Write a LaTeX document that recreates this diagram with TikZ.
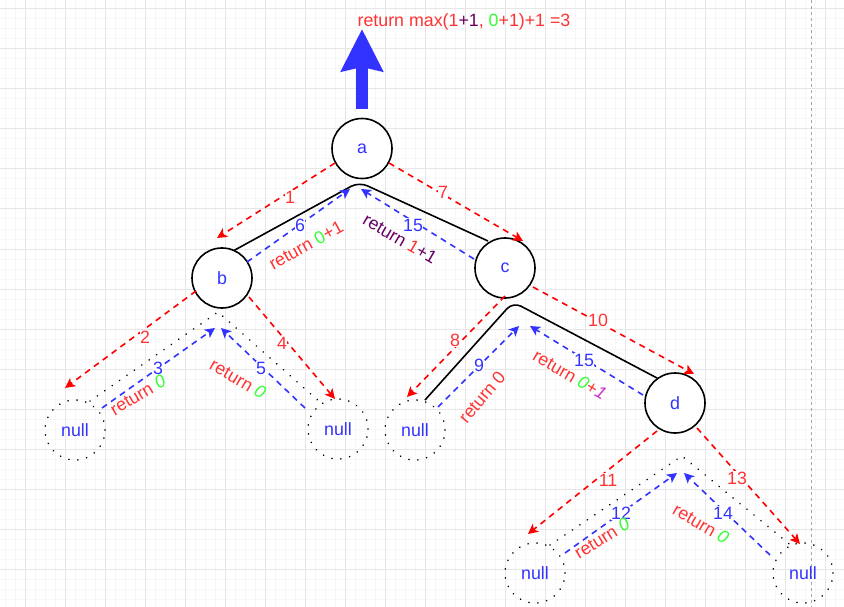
\documentclass[tikz,border=0pt]{standalone}
\usepackage{fontspec}
\setmainfont{Liberation Sans}
\usetikzlibrary{arrows.meta}
\definecolor{tred}{RGB}{255,51,51}
\definecolor{lred}{RGB}{255,0,0}
\definecolor{tblue}{RGB}{51,51,255}
\definecolor{tgreen}{RGB}{51,255,51}
\definecolor{tpurple}{RGB}{102,0,102}
\definecolor{tmag}{RGB}{204,51,204}
\definecolor{gridminor}{RGB}{247,247,247}
\definecolor{gridmajor}{RGB}{230,230,230}
\tikzset{
  txt/.style={font=\fontsize{17.8}{20}\selectfont, inner sep=1pt},
  tnode/.style={circle, draw=black, line width=1.6pt, fill=white, minimum size=60pt, inner sep=0pt, text=tblue, txt},
  nullnode/.style={circle, draw=black, line width=1.8pt, dash pattern=on 0.01pt off 9pt, line cap=round, minimum size=60pt, inner sep=0pt, text=tblue, txt},
  solidpath/.style={draw=black, line width=1.6pt, rounded corners=9pt},
  dotpath/.style={draw=black, line width=1.8pt, dash pattern=on 0.01pt off 9pt, line cap=round},
  redarr/.style={draw=lred, line width=1.6pt, dash pattern=on 6pt off 5pt, -{Stealth[length=10pt, width=10pt, inset=2.5pt]}},
  bluearr/.style={draw=tblue, line width=1.6pt, dash pattern=on 6pt off 5pt, -{Stealth[length=10pt, width=10pt, inset=2.5pt]}},
  numlbl/.style={txt, fill=white, inner sep=0.5pt},
  rednum/.style={numlbl, text=tred},
  bluenum/.style={numlbl, text=tblue},
  retlbl/.style={txt, text=tred},
}
\begin{document}
\begin{tikzpicture}[x=1pt, y=-1pt]
\useasboundingbox (0,0) rectangle (844,607);
\fill[white] (0,0) rectangle (844,607);
% grid
\foreach \x in {5,15,...,845} \draw[gridminor, line width=1pt] (\x,0) -- (\x,607);
\foreach \y in {-1,9,...,607} \draw[gridminor, line width=1pt] (0,\y) -- (844,\y);
\foreach \x in {25,65,...,845} \draw[gridmajor, line width=1pt] (\x,0) -- (\x,607);
\foreach \y in {9,49,...,607} \draw[gridmajor, line width=1pt] (0,\y) -- (844,\y);
% page border (dashed)
\draw[gray!70, line width=0.8pt, dash pattern=on 3pt off 3pt] (811,0) -- (811,607);

% coordinates for connectors
\coordinate (s1a) at (233,251); \coordinate (s1m) at (359,182); \coordinate (s1b) at (488,241);
\coordinate (s2a) at (425,400); \coordinate (s2m) at (513,302); \coordinate (s2b) at (657,378);
\coordinate (p1a) at (90,401);  \coordinate (p1m) at (218,312); \coordinate (p1b) at (320,402);
\coordinate (p2a) at (550,545); \coordinate (p2m) at (682,456); \coordinate (p2b) at (793,547);

\coordinate (r1s) at (335,163);  \coordinate (r1e) at (217,238);
\coordinate (r7s) at (389,163);  \coordinate (r7e) at (523,241);
\coordinate (r2s) at (196,291);  \coordinate (r2e) at (65,388);
\coordinate (r4s) at (249,297);  \coordinate (r4e) at (335,399);
\coordinate (r8s) at (505,296);  \coordinate (r8e) at (407,397);
\coordinate (r10s) at (533,287); \coordinate (r10e) at (694,374);
\coordinate (r11s) at (657,431); \coordinate (r11e) at (528,534);
\coordinate (r13s) at (697,428); \coordinate (r13e) at (800,544);

\coordinate (b6s) at (247,262);  \coordinate (b6e) at (350,189);
\coordinate (b15s) at (474,259); \coordinate (b15e) at (361,189);
\coordinate (b3s) at (102,408);  \coordinate (b3e) at (215,328);
\coordinate (b5s) at (305,408);  \coordinate (b5e) at (221,328);
\coordinate (b9s) at (438,407);  \coordinate (b9e) at (519,326);
\coordinate (b15bs) at (643,395); \coordinate (b15be) at (530,326);
\coordinate (b12s) at (565,553); \coordinate (b12e) at (677,473);
\coordinate (b14s) at (770,555); \coordinate (b14e) at (684,473);

\coordinate (upS) at (362,109); \coordinate (upE) at (362,29);

% solid and dotted traversal lines
\draw[solidpath] (s1a) -- (s1m) -- (s1b);
\draw[solidpath] (s2a) -- (s2m) -- (s2b);
\draw[dotpath] (p1a) -- (p1m) -- (p1b);
\draw[dotpath] (p2a) -- (p2m) -- (p2b);

% tree nodes
\node[tnode] (a) at (362,148.5) {a};
\node[tnode] (b) at (222,278) {b};
\node[tnode] (c) at (505,268) {c};
\node[tnode] (d) at (675,403) {d};
\node[nullnode] (n1) at (75,430) {null};
\node[nullnode] (n2) at (338,429) {null};
\node[nullnode] (n3) at (415,430) {null};
\node[nullnode] (n4) at (535,573) {null};
\node[nullnode] (n5) at (803,573) {null};

% big return arrow
\draw[draw=tblue, line width=12pt, -{Stealth[length=42pt, width=41pt, inset=4pt]}] (upS) -- (upE);
\node[txt, anchor=base] (top) at (464,27) {\textcolor{tred}{return max(1}\textcolor{tpurple}{+1}\textcolor{tred}{, }\textcolor{tgreen}{0}\textcolor{tred}{+1)+1 =3}};

% red (descending) arrows
\draw[redarr] (r1s) -- (r1e);
\draw[redarr] (r7s) -- (r7e);
\draw[redarr] (r2s) -- (r2e);
\draw[redarr] (r4s) -- (r4e);
\draw[redarr] (r8s) -- (r8e);
\draw[redarr] (r10s) -- (r10e);
\draw[redarr] (r11s) -- (r11e);
\draw[redarr] (r13s) -- (r13e);

% blue (returning) arrows
\draw[bluearr] (b6s) -- (b6e);
\draw[bluearr] (b15s) -- (b15e);
\draw[bluearr] (b3s) -- (b3e);
\draw[bluearr] (b5s) -- (b5e);
\draw[bluearr] (b9s) -- (b9e);
\draw[bluearr] (b15bs) -- (b15be);
\draw[bluearr] (b12s) -- (b12e);
\draw[bluearr] (b14s) -- (b14e);

% step numbers
\node[rednum] (k1) at (290,197) {1};
\node[rednum] (k7) at (443,192) {7};
\node[rednum] (k2) at (145,337) {2};
\node[rednum] (k4) at (282,343) {4};
\node[rednum] (k8) at (455,340) {8};
\node[rednum] (k10) at (598,320) {10};
\node[rednum] (k11) at (608,480) {11};
\node[rednum] (k13) at (737,478) {13};
\node[bluenum] (k6) at (300,225) {6};
\node[bluenum] (k15) at (413,225) {15};
\node[bluenum] (k3) at (158,368) {3};
\node[bluenum] (k5) at (261,368) {5};
\node[bluenum] (k9) at (479,365) {9};
\node[bluenum] (k15b) at (584,360) {15};
\node[bluenum] (k12) at (621,513) {12};
\node[bluenum] (k14) at (723,513) {14};

% return labels
\node[retlbl, rotate=29] (L1) at (306,245) {return \textcolor{tgreen}{0}+1};
\node[retlbl, rotate=-30, text=tpurple] (L2) at (400,239) {return \textcolor{tred}{1}+1};
\node[retlbl, rotate=31] (L3) at (138,395) {return \textcolor{tgreen}{\itshape 0}};
\node[retlbl, rotate=-30] (L4) at (238,379) {return \textcolor{tgreen}{\itshape 0}};
\node[retlbl, rotate=50] (L5) at (482,397) {return 0};
\node[retlbl, rotate=-30] (L6) at (570,375) {return \textcolor{tgreen}{\itshape 0}+\textcolor{tmag}{\itshape 1}};
\node[retlbl, rotate=32] (L7) at (602,538) {return \textcolor{tgreen}{\itshape 0}};
\node[retlbl, rotate=-30] (L8) at (701,524) {return \textcolor{tgreen}{\itshape 0}};
\end{tikzpicture}
\end{document}
